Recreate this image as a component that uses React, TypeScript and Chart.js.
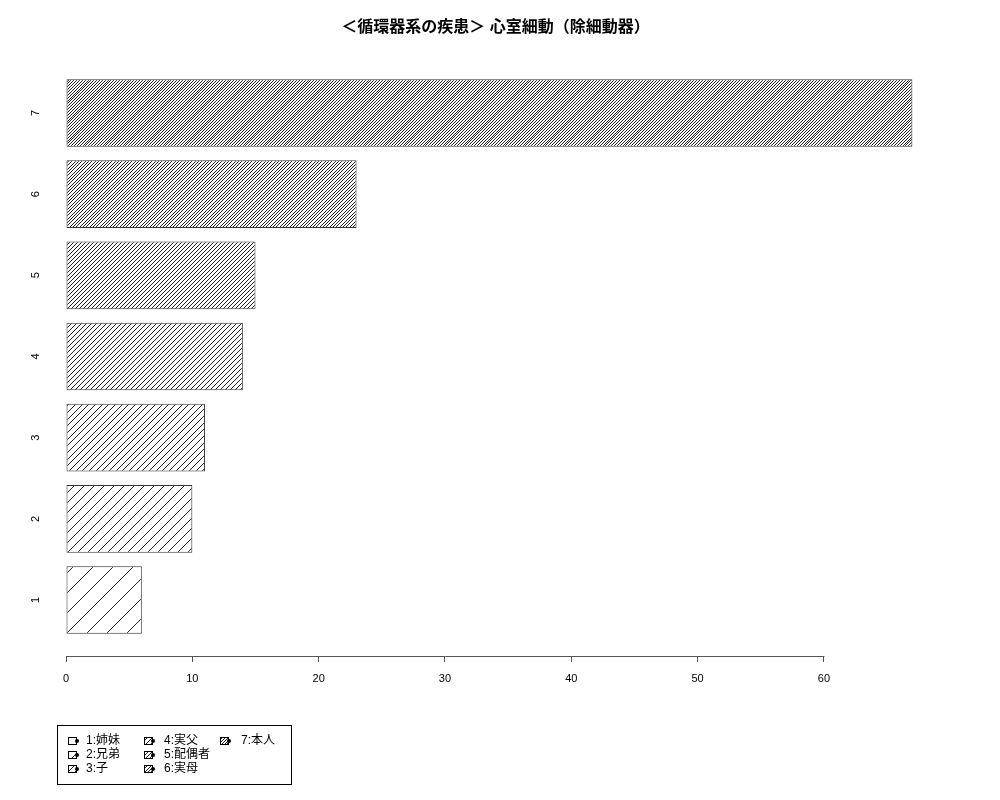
import React, { useEffect, useRef } from 'react';
import { Chart, registerables } from 'chart.js';

Chart.register(...registerables);

const chartTitle = '＜循環器系の疾患＞ 心室細動（除細動器）';
const categories = ['1', '2', '3', '4', '5', '6', '7'];
const counts = [6, 10, 11, 14, 15, 23, 67];
const legendLabels = ['1:姉妹', '2:兄弟', '3:子', '4:実父', '5:配偶者', '6:実母', '7:本人'];
const xTickStep = 10;

const FONT = '"Liberation Sans", "Noto Sans CJK JP", sans-serif';

// aliased "/" hatch, `lines` lines per 20px tile (like R's density)
const makeHatch = (lines: number) => {
  const size = 20;
  const c = document.createElement('canvas');
  c.width = size;
  c.height = size;
  const g = c.getContext('2d');
  if (!g) return '#fff';
  g.fillStyle = '#fff';
  g.fillRect(0, 0, size, size);
  g.fillStyle = '#222';
  const step = size / lines;
  for (let y = 0; y < size; y++) {
    for (let k = 0; k < lines; k++) {
      const x = (Math.round(k * step) + (size - 1 - y)) % size;
      g.fillRect(x, y, 1, 1);
    }
  }
  return g.createPattern(c, 'repeat') || '#fff';
};

const App: React.FC = () => {
  const chartRef = useRef<HTMLCanvasElement | null>(null);

  useEffect(() => {
    const canvas = chartRef.current;
    if (!canvas) return;
    const ctx = canvas.getContext('2d');
    if (!ctx) return;

    const fills = categories.map((_, i) => makeHatch(i + 1));

    const extras = {
      id: 'extras',
      afterDraw(chart: any) {
        const c = chart.ctx;
        const xs = chart.scales.x;
        const ticks = xs.ticks;
        const y0 = chart.chartArea.bottom;
        c.save();
        // axis line only between first and last tick, like R
        c.strokeStyle = '#555';
        c.lineWidth = 1;
        c.beginPath();
        c.moveTo(Math.round(xs.getPixelForValue(ticks[0].value)) + 0.5, Math.round(y0) + 0.5);
        c.lineTo(Math.round(xs.getPixelForValue(ticks[ticks.length - 1].value)) + 0.5, Math.round(y0) + 0.5);
        c.stroke();

        // legend box
        c.strokeStyle = '#000';
        c.strokeRect(57.5, 725.5, 234, 59);
        c.font = '12px ' + FONT;
        c.fillStyle = '#000';
        c.textBaseline = 'middle';
        c.textAlign = 'left';
        const colX = [68, 144, 220];
        const textX = [86, 164, 241];
        legendLabels.forEach((lab, i) => {
          const col = Math.floor(i / 3);
          const row = i % 3;
          const cy = 741 + row * 14;
          const sx = colX[col];
          c.fillStyle = fills[i];
          c.fillRect(sx, cy - 4, 8, 7);
          c.strokeStyle = '#000';
          c.strokeRect(sx + 0.5, cy - 3.5, 8, 7);
          c.fillStyle = '#000';
          c.beginPath();
          c.arc(sx + 9, cy, 2, 0, Math.PI * 2);
          c.fill();
          c.fillText(lab, textX[col], cy);
        });
        c.restore();
      },
    };

    const chart = new Chart(ctx, {
      type: 'bar',
      data: {
        labels: categories,
        datasets: [
          {
            data: counts,
            backgroundColor: fills,
            borderColor: '#333',
            borderWidth: 1,
            borderSkipped: false,
            barPercentage: 1,
            categoryPercentage: 1 / 1.2,
          },
        ],
      },
      options: {
        indexAxis: 'y',
        responsive: false,
        animation: false,
        devicePixelRatio: 1,
        layout: { padding: { left: 0, right: 75, top: 0, bottom: 0 } },
        plugins: {
          legend: { display: false },
          tooltip: { enabled: false },
          title: {
            display: true,
            text: chartTitle,
            fullSize: false,
            color: '#000',
            font: { family: FONT, size: 16, weight: 'bold', lineHeight: 1.2 },
            padding: { top: 18, bottom: 23 },
          },
        },
        scales: {
          x: {
            type: 'linear',
            min: 0,
            max: 68,
            grid: { display: true, drawOnChartArea: false, drawTicks: true, tickLength: 6, color: '#555' },
            border: { display: false },
            ticks: {
              stepSize: xTickStep,
              includeBounds: false,
              color: '#000',
              padding: 10,
              font: { family: FONT, size: 11 },
              maxRotation: 0,
            },
            afterFit: (scale: any) => {
              scale.height = 144;
            },
          },
          y: {
            type: 'linear',
            offset: false,
            min: 0.31,
            max: 7.65,
            grid: { display: false, drawTicks: false, offset: false },
            border: { display: false },
            ticks: {
              stepSize: 1,
              includeBounds: false,
              minRotation: 90,
              maxRotation: 90,
              crossAlign: 'center',
              padding: 27,
              color: '#000',
              font: { family: FONT, size: 11 },
            },
            afterFit: (scale: any) => {
              scale.width = 66;
            },
          },
        },
      },
      plugins: [extras],
    } as any);

    return () => {
      chart.destroy();
    };
  }, []);

  return (
    <div style={{ position: 'absolute', left: 0, top: 0, width: 1000, height: 800, background: '#fff' }}>
      <canvas ref={chartRef} width={1000} height={800} />
    </div>
  );
};

export default App;
